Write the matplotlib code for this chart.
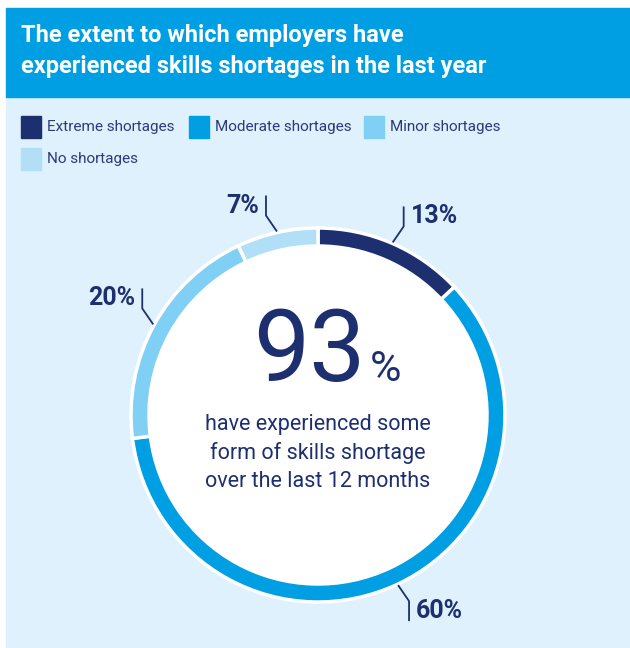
import numpy as np
import matplotlib.pyplot as plt
from matplotlib.patches import Rectangle, Circle

# data
categories = ["Extreme shortages", "Moderate shortages", "Minor shortages", "No shortages"]
values = [13, 60, 20, 7]
colors = ["#1d2f6f", "#009fe3", "#80cff4", "#b0dff7"]
title = "The extent to which employers have\nexperienced skills shortages in the last year"
headline = "93"
subtext = "have experienced some\nform of skills shortage\nover the last 12 months"

navy = "#1d2f6f"
W, H = 630, 648
plt.rcParams['font.family'] = ['Roboto', 'DejaVu Sans']

fig = plt.figure(figsize=(W / 100, H / 100), dpi=100)
ax = fig.add_axes([0, 0, 1, 1])

def Y(y):  # image row -> data y
    return H - y

# panel + header
ax.add_patch(Rectangle((6, 0), W - 6, Y(97), color="#dff1fc", zorder=0))
ax.add_patch(Rectangle((6, Y(97)), W - 6, 89, color="#009fe3", zorder=0))
ax.text(21, Y(51), title, color="white", fontsize=17, fontweight="bold",
        va="center", ha="left", linespacing=1.4)

# legend
leg_pos = [(21, 127), (189, 127), (364, 127), (21, 159)]
for (lx, ly), lab, c in zip(leg_pos, categories, colors):
    ax.add_patch(Rectangle((lx, Y(ly) - 11), 20, 22, color=c, zorder=2))
    ax.text(lx + 26, Y(ly), lab, color="#2b3a7b", fontsize=11, va="center", ha="left")

# donut
cx, cy, R, w = 318, Y(415), 187, 18
ax.add_patch(Circle((cx, cy), R - w, color="white", zorder=0.5))
ax.pie(values, colors=colors, startangle=90, counterclock=False,
       center=(cx, cy), radius=R, frame=True,
       wedgeprops=dict(width=w, edgecolor="white", linewidth=2.5))
ax.set_xlim(0, W)
ax.set_ylim(0, H)
ax.set_aspect("auto")
ax.axis("off")

# leader lines + labels
cum = np.cumsum([0] + values[:-1])
for v, c0 in zip(values, cum):
    ang = np.deg2rad(90 - (c0 + v / 2) * 3.6)
    x0, y0 = cx + (R + 1) * np.cos(ang), cy + (R + 1) * np.sin(ang)
    sx = 1 if np.cos(ang) > 0 else -1
    sy = 1 if np.sin(ang) > 0 else -1
    x1, y1 = x0 + sx * 11, y0 + sy * 16
    y2 = y1 + sy * 20
    ax.plot([x0, x1, x1], [y0, y1, y2], color=navy, lw=1.3, solid_capstyle="butt")
    ax.text(x1 + sx * 7, (y1 + y2) / 2, f"{v}%", color=navy, fontsize=18,
            fontweight="bold", ha="left" if sx > 0 else "right", va="center")

# centre text
ax.text(365, Y(381), headline, color=navy, fontsize=72, fontweight="normal",
        ha="right", va="baseline")
ax.text(370, Y(381), "%", color=navy, fontsize=31, fontweight="normal",
        ha="left", va="baseline")
ax.text(cx, Y(453), subtext, color=navy, fontsize=15.5, ha="center", va="center",
        linespacing=1.4)

fig.savefig("out.png", dpi=100)
